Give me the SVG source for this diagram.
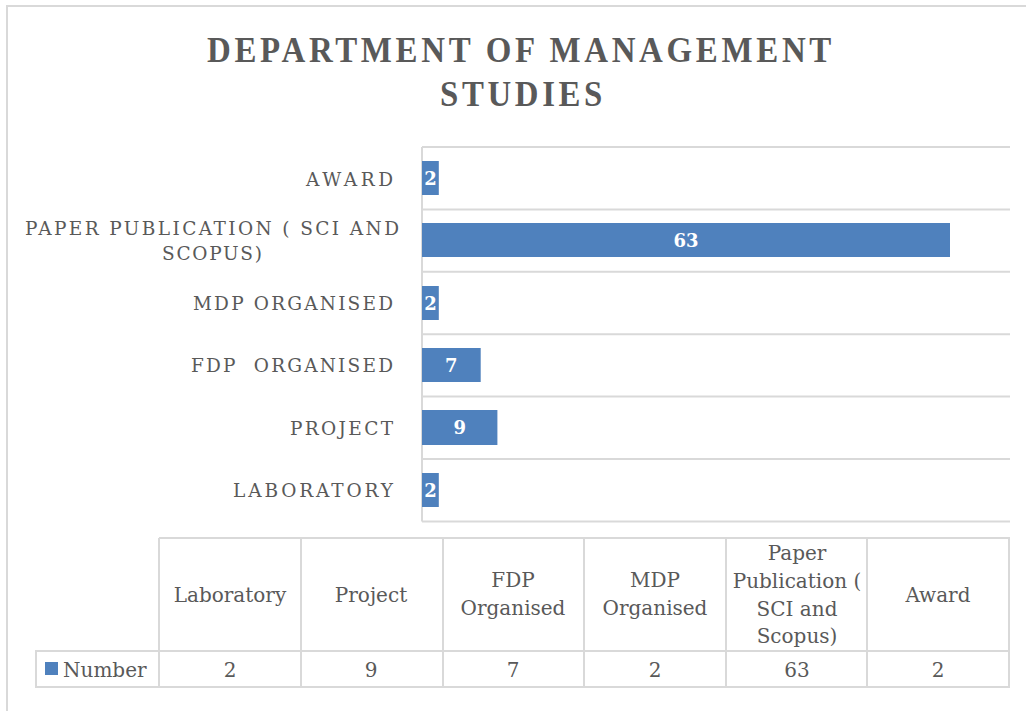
<svg xmlns="http://www.w3.org/2000/svg" width="1026" height="711" viewBox="0 0 1026 711">
<style>
.bd{stroke:#d9d9d9;stroke-width:2;fill:none}
.title{font-family:"Liberation Serif",serif;font-weight:bold;font-size:36px;fill:#595959}
.cat{font-family:"DejaVu Serif",serif;font-size:18.5px;fill:#595959}
.bar{fill:#4f81bd}
.val{font-family:"DejaVu Serif",serif;font-weight:bold;font-size:18px;fill:#ffffff;text-anchor:middle}
.tb{font-family:"DejaVu Serif",serif;font-size:20px;fill:#595959;text-anchor:middle}
</style>
<rect x="0" y="0" width="1026" height="711" fill="#ffffff"/>
<path class="bd" d="M7 711 V6 H1026"/>
<g id="title">
<text class="title" x="207" y="62" textLength="628" lengthAdjust="spacingAndGlyphs" letter-spacing="4">DEPARTMENT OF MANAGEMENT</text>
<text class="title" x="440" y="106" textLength="166" lengthAdjust="spacingAndGlyphs" letter-spacing="4">STUDIES</text>
</g>
<g id="grid">
<path class="bd" d="M422 147 H1010 M422 209.4 H1010 M422 271.8 H1010 M422 334.2 H1010 M422 396.6 H1010 M422 459 H1010 M422 521.4 H1010 M422 147 V521.4"/>
</g>
<g id="cat-award">
<text class="cat" x="306" y="186" textLength="87" lengthAdjust="spacing">AWARD</text>
<rect class="bar" x="422" y="161" width="16.8" height="34"/>
<text class="val" x="430.4" y="185">2</text>
</g>
<g id="cat-paper">
<text class="cat" x="25" y="235" textLength="374" lengthAdjust="spacing">PAPER PUBLICATION ( SCI AND</text>
<text class="cat" x="162" y="260" textLength="100" lengthAdjust="spacing">SCOPUS)</text>
<rect class="bar" x="422" y="223" width="528" height="34"/>
<text class="val" x="686" y="247">63</text>
</g>
<g id="cat-mdp">
<text class="cat" x="193" y="310" textLength="200" lengthAdjust="spacing">MDP ORGANISED</text>
<rect class="bar" x="422" y="286" width="16.8" height="34"/>
<text class="val" x="430.4" y="310">2</text>
</g>
<g id="cat-fdp">
<text class="cat" x="191" y="372" textLength="202" lengthAdjust="spacing" xml:space="preserve">FDP  ORGANISED</text>
<rect class="bar" x="422" y="348" width="58.7" height="34"/>
<text class="val" x="451.3" y="372">7</text>
</g>
<g id="cat-project">
<text class="cat" x="290" y="435" textLength="103" lengthAdjust="spacing">PROJECT</text>
<rect class="bar" x="422" y="410" width="75.4" height="35"/>
<text class="val" x="459.7" y="434">9</text>
</g>
<g id="cat-laboratory">
<text class="cat" x="233" y="497" textLength="160" lengthAdjust="spacing">LABORATORY</text>
<rect class="bar" x="422" y="473" width="16.8" height="34"/>
<text class="val" x="430.4" y="497">2</text>
</g>
<g id="table">
<path class="bd" d="M159 538 H1009 V687 H36 V651 H1009 M159 538 V687 M301 538 V687 M443 538 V687 M584 538 V687 M726 538 V687 M867 538 V687 M36 651 H159"/>
<text class="tb" x="230" y="602">Laboratory</text>
<text class="tb" x="371" y="602">Project</text>
<text class="tb" x="513" y="587">FDP</text>
<text class="tb" x="513" y="615">Organised</text>
<text class="tb" x="655" y="587">MDP</text>
<text class="tb" x="655" y="615">Organised</text>
<text class="tb" x="797" y="560">Paper</text>
<text class="tb" x="797" y="588">Publication (</text>
<text class="tb" x="797" y="616">SCI and</text>
<text class="tb" x="797" y="643">Scopus)</text>
<text class="tb" x="938" y="602">Award</text>
<rect class="bar" x="45" y="662" width="13" height="13"/>
<text class="tb" x="63" y="677" style="text-anchor:start">Number</text>
<text class="tb" x="230" y="677">2</text>
<text class="tb" x="371" y="677">9</text>
<text class="tb" x="513" y="677">7</text>
<text class="tb" x="655" y="677">2</text>
<text class="tb" x="797" y="677">63</text>
<text class="tb" x="938" y="677">2</text>
</g>
</svg>
